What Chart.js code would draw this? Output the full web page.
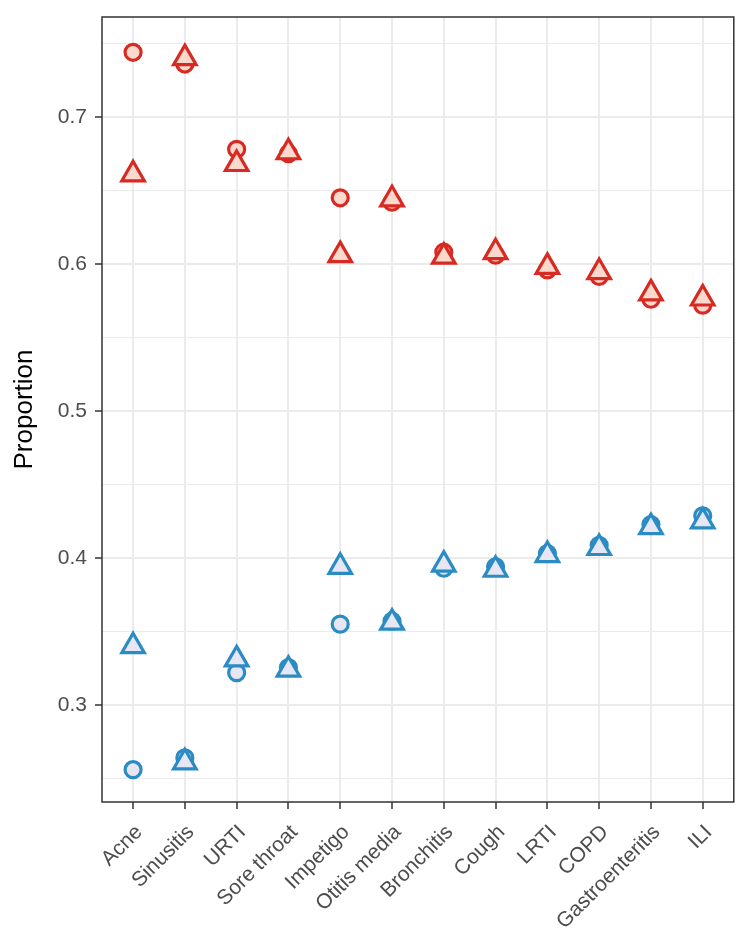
<!DOCTYPE html>
<html>
<head>
<meta charset="utf-8">
<script src="https://cdn.jsdelivr.net/npm/chart.js@4"></script>
<style>
  html, body { margin: 0; background: #fff; overflow: hidden; }
  #wrap { width: 750px; height: 947px; position: relative; }
</style>
</head>
<body>
<div id="wrap"><canvas id="propChart"></canvas></div>
<script>
const categories = ["Acne", "Sinusitis", "URTI", "Sore throat", "Impetigo", "Otitis media",
                    "Bronchitis", "Cough", "LRTI", "COPD", "Gastroenteritis", "ILI"];

// red group (upper)
const redCircle   = [0.744, 0.736, 0.678, 0.675, 0.645, 0.642, 0.608, 0.606, 0.596, 0.5915, 0.576, 0.572];
const redTriangle = [0.661, 0.740, 0.668, 0.676, 0.606, 0.644, 0.605, 0.608, 0.598, 0.5945, 0.580, 0.5765];
// blue group (lower)
const blueCircle   = [0.256, 0.264, 0.322, 0.3255, 0.355, 0.357, 0.393, 0.394, 0.403, 0.4086, 0.4227, 0.4287];
const blueTriangle = [0.340, 0.261, 0.331, 0.324, 0.394, 0.356, 0.3955, 0.392, 0.402, 0.4068, 0.421, 0.4249];

const yTicks = [0.25, 0.3, 0.35, 0.4, 0.45, 0.5, 0.55, 0.6, 0.65, 0.7, 0.75];

const RED = "#d62a22", RED_FILL = "#fcd9cc";
const BLUE = "#2b8cc4", BLUE_FILL = "#e6e6f5";
const FONT = "'Liberation Sans', Arial, sans-serif";

function toPoints(arr) {
    return arr.map((v, i) => ({ x: i, y: v }));
}

function isMajor(v) {
    return Math.abs(v * 10 - Math.round(v * 10)) < 1e-6;
}

function makeSet(label, values, style, stroke, fill) {
    const r = style === "triangle" ? 13 : 8;
    return {
        label: label,
        data: toPoints(values),
        showLine: false,
        pointStyle: style,
        pointRadius: r,
        pointHoverRadius: r,
        pointBorderWidth: 3.2,
        pointBorderColor: stroke,
        pointBackgroundColor: fill
    };
}

// panel border like theme_bw
const panelBorder = {
    id: "panelBorder",
    afterDraw(chart) {
        const a = chart.chartArea, ctx = chart.ctx;
        ctx.save();
        ctx.strokeStyle = "#333333";
        ctx.lineWidth = 1.5;
        ctx.strokeRect(a.left, a.top, a.right - a.left, a.bottom - a.top);
        ctx.restore();
    }
};

// triangles first so they are drawn over the circles
const datasets = [
    makeSet("red triangle", redTriangle, "triangle", RED, RED_FILL),
    makeSet("blue triangle", blueTriangle, "triangle", BLUE, BLUE_FILL),
    makeSet("red circle", redCircle, "circle", RED, RED_FILL),
    makeSet("blue circle", blueCircle, "circle", BLUE, BLUE_FILL)
];

const ctx = document.getElementById("propChart").getContext("2d");
new Chart(ctx, {
    type: "scatter",
    data: { datasets: datasets },
    plugins: [panelBorder],
    options: {
        responsive: true,
        maintainAspectRatio: false,
        animation: false,
        layout: { padding: { top: 17, right: 4, left: 0, bottom: 0 } },
        plugins: {
            legend: { display: false },
            tooltip: { enabled: false }
        },
        scales: {
            x: {
                type: "linear",
                min: -0.6,
                max: 11.6,
                afterBuildTicks: scale => {
                    scale.ticks = categories.map((c, i) => ({ value: i }));
                },
                afterFit: scale => {
                    scale.height = 145;
                },
                border: { display: false },
                grid: {
                    color: "#ebebeb",
                    lineWidth: 2,
                    tickColor: "#333333",
                    tickWidth: 1.5,
                    tickLength: 7
                },
                ticks: {
                    autoSkip: false,
                    minRotation: 45,
                    maxRotation: 45,
                    padding: 11,
                    labelOffset: 6,
                    color: "#4d4d4d",
                    font: { family: FONT, size: 21 },
                    callback: v => categories[v]
                }
            },
            y: {
                type: "linear",
                min: 0.234,
                max: 0.768,
                afterBuildTicks: scale => {
                    scale.ticks = yTicks.map(v => ({ value: v }));
                },
                afterFit: scale => {
                    scale.width = 102;
                    scale.paddingTop = 0;
                    scale.paddingBottom = 0;
                },
                border: { display: false },
                grid: {
                    color: "#ebebeb",
                    lineWidth: c => isMajor(c.tick.value) ? 2 : 1,
                    tickColor: c => isMajor(c.tick.value) ? "#333333" : "rgba(0,0,0,0)",
                    tickWidth: 1.5,
                    tickLength: 7
                },
                title: {
                    display: true,
                    text: "Proportion",
                    color: "#000000",
                    padding: { top: 9, bottom: 0 },
                    font: { family: FONT, size: 26 }
                },
                ticks: {
                    padding: 8,
                    color: "#4d4d4d",
                    font: { family: FONT, size: 21 },
                    callback: v => isMajor(v) ? v.toFixed(1) : ""
                }
            }
        }
    }
});
</script>
</body>
</html>
